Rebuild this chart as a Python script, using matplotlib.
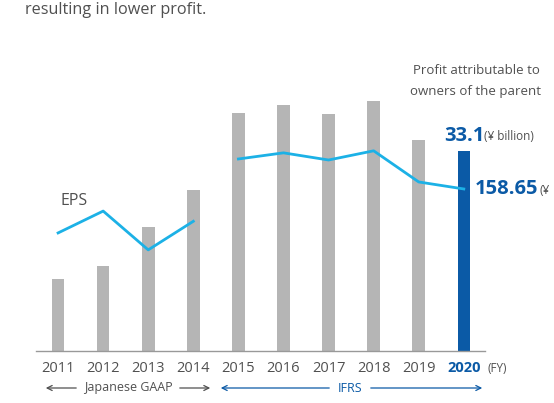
import matplotlib.pyplot as plt
from matplotlib.patches import FancyArrowPatch
import numpy as np

plt.rcParams['font.family'] = ['Open Sans', 'DejaVu Sans']

years = ['2011', '2012', '2013', '2014', '2015', '2016', '2017', '2018', '2019', '2020']
profit = [11.9, 14.1, 20.5, 26.6, 39.4, 40.7, 39.2, 41.4, 34.9, 33.1]   # ¥ billion
eps_jgaap = [115.6, 137.0, 99.0, 127.0]       # 2011-2014
eps_ifrs = [188.0, 194.0, 187.0, 196.0, 165.5, 158.65]  # 2015-2020

W, H = 554, 403
GRAY = '#b5b5b5'
BLUE = '#0b5aa6'
CYAN = '#1cb1e6'
TXT = '#505050'

fig = plt.figure(figsize=(W / 100, H / 100), dpi=100)
ax = fig.add_axes([36 / W, 52 / H, 449 / W, 301 / H])
x = np.arange(len(years))
colors = [GRAY] * (len(years) - 1) + [BLUE]
ax.bar(x, profit, width=0.28, color=colors, zorder=2)
ax.set_xlim(-0.49, 9.47)
ax.set_ylim(0, 49.8)
for s in ['top', 'right', 'left']:
    ax.spines[s].set_visible(False)
ax.spines['bottom'].set_color('#999999')
ax.spines['bottom'].set_linewidth(1.0)
ax.set_yticks([])
ax.set_xticks(x)
ax.set_xticklabels(years, fontsize=10.5, color=TXT)
ax.tick_params(axis='x', length=0, pad=7)
lbl = ax.get_xticklabels()[-1]
lbl.set_color(BLUE)
lbl.set_fontweight('bold')

ax2 = ax.twinx()
ax2.set_ylim(0, 294.7)
ax2.plot(x[:4], eps_jgaap, color=CYAN, lw=2, zorder=3)
ax2.plot(x[4:], eps_ifrs, color=CYAN, lw=2, zorder=3)
ax2.axis('off')

def ft(px, py, s, **kw):
    fig.text(px / W, 1 - py / H, s, **kw)

ft(25, 10, 'resulting in lower profit.', fontsize=11.7, color=TXT, va='center')
ft(476, 71, 'Profit attributable to', fontsize=9.5, color=TXT, ha='center', va='center')
ft(476, 91, 'owners of the parent', fontsize=9.5, color=TXT, ha='center', va='center')
ft(444, 136, '33.1', fontsize=14.5, color=BLUE, fontweight='bold', va='center')
ft(484, 137, '(¥ billion)', fontsize=8.5, color=TXT, va='center')
ft(475, 189, '158.65', fontsize=14.5, color=BLUE, fontweight='bold', va='center')
ft(539, 190, '(¥', fontsize=8.5, color=TXT, va='center')
ft(60, 201, 'EPS', fontsize=11.5, color=TXT, va='center')
ft(488, 368, '(FY)', fontsize=8.5, color=TXT, va='center')

# accounting standard arrows
ya = 1 - 388 / H
ft(128, 388, 'Japanese GAAP', fontsize=9, color=TXT, ha='center', va='center')
ft(350, 388, 'IFRS', fontsize=9, color=BLUE, ha='center', va='center')
arr = dict(arrowstyle='->', lw=0.9, mutation_scale=9, transform=fig.transFigure)
for x0, x1, c in [(79, 43, TXT), (177, 213, TXT), (332, 218, BLUE), (368, 485, BLUE)]:
    fig.patches.append(FancyArrowPatch((x0 / W, ya), (x1 / W, ya), color=c, **arr))

fig.savefig('out.png', dpi=100)
